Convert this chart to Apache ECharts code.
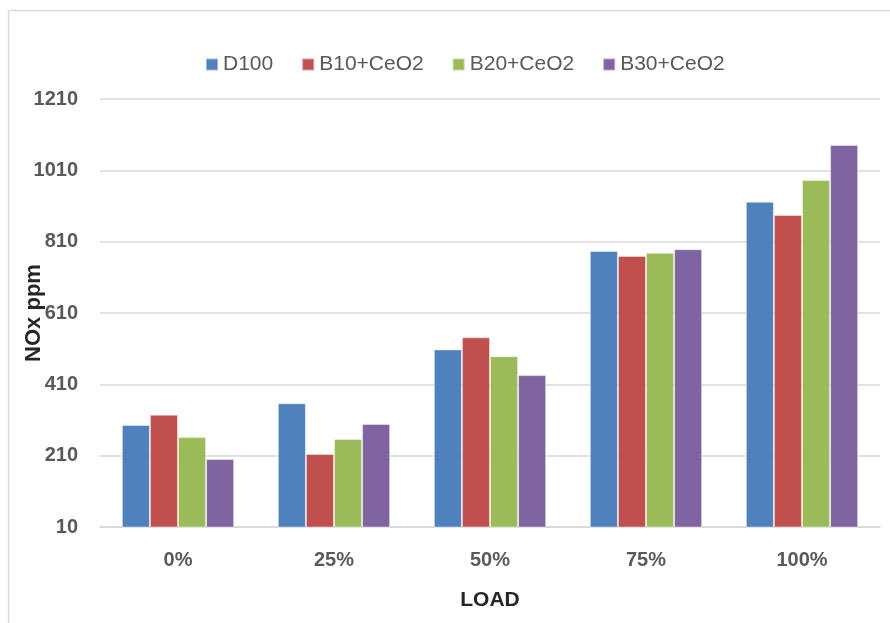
<!DOCTYPE html>
<html><head><meta charset="utf-8">
<script src="https://cdn.jsdelivr.net/npm/echarts@6/dist/echarts.min.js"></script>
<style>html,body{margin:0;padding:0;background:#fff}#c{width:890px;height:623px}</style>
</head><body><div id="c"></div>
<script>
var categories = ['0%', '25%', '50%', '75%', '100%'];
var seriesNames = ['D100', 'B10+CeO2', 'B20+CeO2', 'B30+CeO2'];
var d100 = [296, 357, 508, 784, 922];
var b10 = [325, 215, 542, 770, 885];
var b20 = [262, 257, 489, 779, 983];
var b30 = [201, 299, 436, 789, 1081];
var colors = ['#4F81BD', '#C0504D', '#9BBB59', '#8064A2'];
var values = [d100, b10, b20, b30];
var font = 'Liberation Sans, Arial, sans-serif';
var chart = echarts.init(document.getElementById('c'));
chart.setOption({
  animation: false,
  graphic: [{type: 'rect', shape: {x: 8.5, y: 10.5, width: 900, height: 700}, style: {fill: 'none', stroke: '#d9d9d9', lineWidth: 1.5}, silent: true}],
  legend: {
    top: 49, left: 200, itemWidth: 12, itemHeight: 12, itemGap: 28,
    icon: 'rect',
    textStyle: {fontFamily: font, fontSize: 21, color: '#595959'},
    data: seriesNames
  },
  grid: {left: 100, right: 10, top: 99, bottom: 96, containLabel: false, outerBoundsMode: 'none'},
  xAxis: {
    type: 'category', data: categories,
    name: 'LOAD', nameLocation: 'middle', nameGap: 63, nameMoveOverlap: false,
    nameTextStyle: {fontFamily: font, fontSize: 21, fontWeight: 'bold', color: '#262626'},
    axisLine: {lineStyle: {color: '#d9d9d9', width: 1.5}},
    axisTick: {show: false},
    axisLabel: {fontFamily: font, fontSize: 20, fontWeight: 'bold', color: '#595959', margin: 23}
  },
  yAxis: {
    type: 'value', min: 10, max: 1210, interval: 200,
    name: 'NOx ppm', nameLocation: 'middle', nameGap: 55, nameRotate: 90, nameMoveOverlap: false,
    nameTextStyle: {fontFamily: font, fontSize: 22, fontWeight: 'bold', color: '#262626'},
    axisLine: {show: false}, axisTick: {show: false},
    axisLabel: {fontFamily: font, fontSize: 20, fontWeight: 'bold', color: '#595959', margin: 22,
      formatter: function (v) { return String(v); }},
    splitLine: {lineStyle: {color: '#d9d9d9', width: 1.5}}
  },
  series: seriesNames.map(function (n, i) {
    return {
      name: n, type: 'bar', data: values[i],
      barGap: '0%', barCategoryGap: '28%',
      itemStyle: {color: colors[i], borderColor: 'rgba(255,255,255,0.45)', borderWidth: 1}
    };
  })
});
</script></body></html>
